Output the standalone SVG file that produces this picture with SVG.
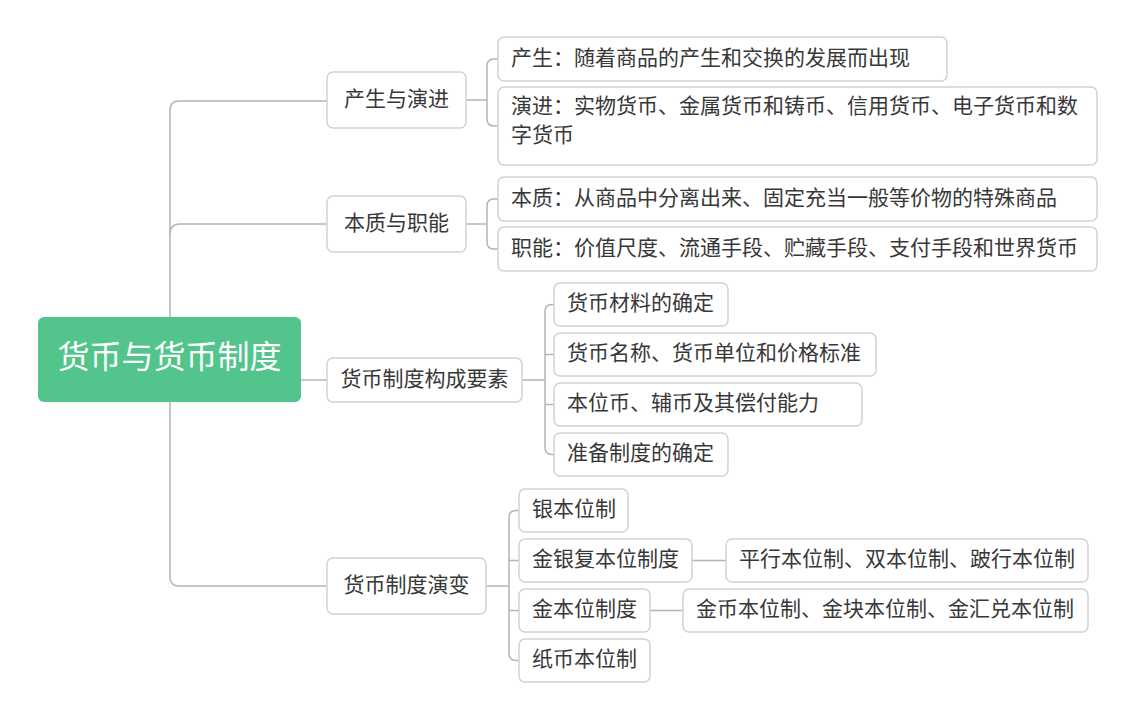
<svg xmlns="http://www.w3.org/2000/svg" width="1133" height="720" viewBox="0 0 1133 720">
<style>
.bx{fill:#fff;stroke:#d2d2d2;stroke-width:1.5}
.ln{fill:none;stroke:#b4b4b4;stroke-width:1.5}
.t{font-family:"Noto Sans CJK SC","Noto Sans",sans-serif;font-size:21px;fill:#383838}
.c{text-anchor:middle}
.root{font-family:"Noto Sans CJK SC","Noto Sans",sans-serif;font-size:32px;fill:#fff;text-anchor:middle}
</style>
<rect width="1133" height="720" fill="#fff"/>
<g id="connectors">
<path class="ln" d="M327,101 H179 Q170,101 170,110 V577 Q170,586 179,586 H327"/>
<path class="ln" d="M170,234 Q170,224 180,224 H327"/>
<path class="ln" d="M301,380 H327"/>
<path class="ln" d="M466,100 H487 M498,59 H494 Q487,59 487,66 V119 Q487,126 494,126 H498"/>
<path class="ln" d="M466,224 H487 M498,199 H494 Q487,199 487,206 V242 Q487,249 494,249 H498"/>
<path class="ln" d="M522,380 H545 M554,304.5 H552 Q545,304.5 545,311.5 V447.5 Q545,454.5 552,454.5 H554 M545,354.5 H554 M545,404.5 H554"/>
<path class="ln" d="M486,586 H509 M519,510.5 H516 Q509,510.5 509,517.5 V653.5 Q509,660.5 516,660.5 H519 M509,560.5 H519 M509,610.5 H519"/>
<path class="ln" d="M692,560.5 H726"/>
<path class="ln" d="M650,610.5 H683"/>
</g>
<g id="root">
<rect x="38" y="317" width="263" height="85" rx="6" fill="#53c48b"/>
<text class="root" x="169.5" y="368">货币与货币制度</text>
</g>
<g id="n1">
<rect class="bx" x="327" y="72" width="139" height="56" rx="6"/>
<text class="t c" x="396.5" y="105.5">产生与演进</text>
</g>
<g id="n1a">
<rect class="bx" x="498" y="37" width="449" height="44" rx="6"/>
<text class="t" x="511" y="64.5">产生：随着商品的产生和交换的发展而出现</text>
</g>
<g id="n1b">
<rect class="bx" x="498" y="87" width="599" height="78" rx="6"/>
<text class="t" x="511" y="113">演进：实物货币、金属货币和铸币、信用货币、电子货币和数</text>
<text class="t" x="511" y="142">字货币</text>
</g>
<g id="n2">
<rect class="bx" x="327" y="196" width="139" height="56" rx="6"/>
<text class="t c" x="396.5" y="229.5">本质与职能</text>
</g>
<g id="n2a">
<rect class="bx" x="498" y="177" width="599" height="44" rx="6"/>
<text class="t" x="511" y="204.5">本质：从商品中分离出来、固定充当一般等价物的特殊商品</text>
</g>
<g id="n2b">
<rect class="bx" x="498" y="227" width="599" height="44" rx="6"/>
<text class="t" x="511" y="254.5">职能：价值尺度、流通手段、贮藏手段、支付手段和世界货币</text>
</g>
<g id="n3">
<rect class="bx" x="327" y="358" width="195" height="44" rx="6"/>
<text class="t c" x="424.5" y="385.5">货币制度构成要素</text>
</g>
<g id="n3a">
<rect class="bx" x="554" y="283" width="174" height="43" rx="6"/>
<text class="t" x="567" y="310">货币材料的确定</text>
</g>
<g id="n3b">
<rect class="bx" x="554" y="333" width="322" height="43" rx="6"/>
<text class="t" x="567" y="360">货币名称、货币单位和价格标准</text>
</g>
<g id="n3c">
<rect class="bx" x="554" y="383" width="308" height="43" rx="6"/>
<text class="t" x="567" y="410">本位币、辅币及其偿付能力</text>
</g>
<g id="n3d">
<rect class="bx" x="554" y="433" width="174" height="43" rx="6"/>
<text class="t" x="567" y="460">准备制度的确定</text>
</g>
<g id="n4">
<rect class="bx" x="327" y="558" width="159" height="56" rx="6"/>
<text class="t c" x="406.5" y="591.5">货币制度演变</text>
</g>
<g id="n4a">
<rect class="bx" x="519" y="489" width="109" height="43" rx="6"/>
<text class="t" x="532" y="516">银本位制</text>
</g>
<g id="n4b">
<rect class="bx" x="519" y="539" width="173" height="43" rx="6"/>
<text class="t" x="532" y="566">金银复本位制度</text>
</g>
<g id="n4c">
<rect class="bx" x="519" y="589" width="131" height="43" rx="6"/>
<text class="t" x="532" y="616">金本位制度</text>
</g>
<g id="n4d">
<rect class="bx" x="519" y="639" width="131" height="43" rx="6"/>
<text class="t" x="532" y="666">纸币本位制</text>
</g>
<g id="n4b1">
<rect class="bx" x="726" y="539" width="362" height="43" rx="6"/>
<text class="t" x="739" y="566">平行本位制、双本位制、跛行本位制</text>
</g>
<g id="n4c1">
<rect class="bx" x="683" y="589" width="405" height="43" rx="6"/>
<text class="t" x="696" y="616">金币本位制、金块本位制、金汇兑本位制</text>
</g>
</svg>
